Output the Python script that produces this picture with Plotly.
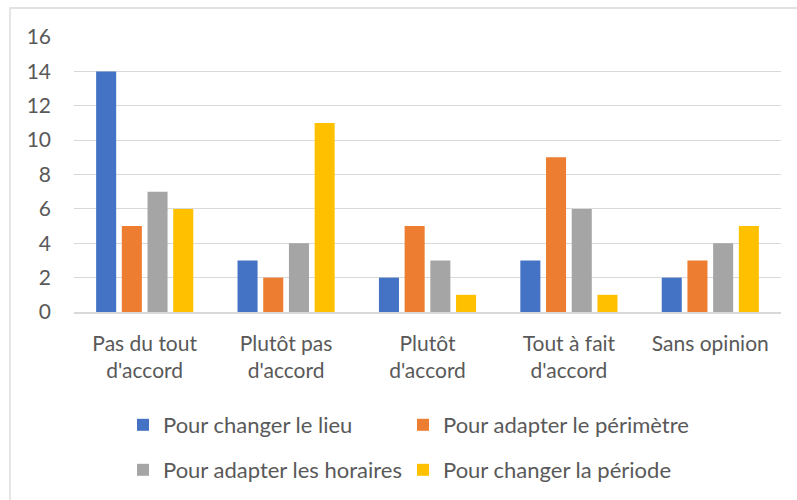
import plotly.graph_objects as go

categories = ["Pas du tout<br>d'accord", "Plutôt pas<br>d'accord", "Plutôt<br>d'accord", "Tout à fait<br>d'accord", "Sans opinion"]
lieu = [14, 3, 2, 3, 2]
perimetre = [5, 2, 5, 9, 3]
horaires = [7, 4, 3, 6, 4]
periode = [6, 11, 1, 1, 5]
series_names = ["Pour changer le lieu", "Pour adapter le périmètre", "Pour adapter les horaires", "Pour changer la période"]
colors = ["#4472C4", "#ED7D31", "#A5A5A5", "#FFC000"]
y_ticks = [0, 2, 4, 6, 8, 10, 12, 14, 16]

W, H = 797, 500
FONT = "Lato"
TXT = "#595959"
FS = 21

legend_ids = ["legend", "legend2", "legend3", "legend4"]

fig = go.Figure()
for i, (name, vals) in enumerate(zip(series_names, [lieu, perimetre, horaires, periode])):
    fig.add_trace(go.Bar(
        x=categories, y=vals, name=name,
        marker=dict(color=colors[i], line=dict(width=0)),
        legend=legend_ids[i],
    ))

L, R, T, B = 74, 16, 37, 188
pw = W - L - R
ph = H - T - B

def px2paper_x(px):
    return (px - L) / pw

def px2paper_y(py):
    return (H - B - py) / ph

fig.add_shape(type="rect", xref="paper", yref="paper",
              x0=px2paper_x(10), x1=px2paper_x(810),
              y0=px2paper_y(520), y1=px2paper_y(8),
              line=dict(color="#D9D9D9", width=1.3), fillcolor="rgba(0,0,0,0)", layer="below")

leg_common = dict(orientation="h", xref="container", yref="container",
                  xanchor="left", yanchor="middle",
                  font=dict(family=FONT, size=22, color=TXT),
                  bgcolor="rgba(0,0,0,0)", borderwidth=0)

leg_pos = [(123, 425), (403, 425), (123, 470), (403, 470)]
legends = {lid: dict(x=px / W, y=1 - py / H, **leg_common) for lid, (px, py) in zip(legend_ids, leg_pos)}

fig.update_layout(
    width=W, height=H,
    margin=dict(l=L, r=R, t=T, b=B),
    paper_bgcolor="white", plot_bgcolor="white",
    barmode="group", bargap=0.273, bargroupgap=0.22,
    font=dict(family=FONT, size=FS, color=TXT),
    showlegend=True,
    xaxis=dict(showgrid=False, showline=True, linecolor="#D9D9D9", linewidth=1.5,
               ticks="", tickfont=dict(family=FONT, size=FS, color=TXT),
               ticklabelstandoff=12, fixedrange=True),
    yaxis=dict(range=[0, 16], tickvals=y_ticks, showgrid=True, gridcolor="#D9D9D9",
               gridwidth=1.3, zeroline=False, showline=False, ticks="",
               tickfont=dict(family=FONT, size=FS, color=TXT),
               ticklabelstandoff=22, fixedrange=True),
    **legends,
)

fig.write_html("out.html", config={"displayModeBar": False},
               post_script="document.body.style.margin='0';")
